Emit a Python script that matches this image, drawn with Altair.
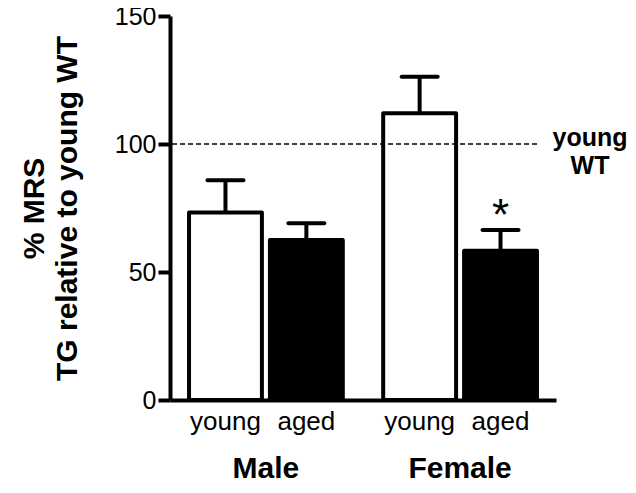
import altair as alt
import pandas as pd

# ---- data ----
sex = ["Male", "Male", "Female", "Female"]
age = ["young", "aged", "young", "aged"]
mean = [73.2, 62.5, 112.0, 58.3]
sem = [12.6, 6.5, 14.3, 8.1]
sig = ["", "", "", "*"]
ref_value = [100]
ref_label = ["young\nWT"]
y_ticks = [0, 50, 100, 150]

df = pd.DataFrame({
    "sex": sex,
    "age": age,
    "mean": mean,
    "upper": [m + s for m, s in zip(mean, sem)],
    "sig": sig,
})
ref_df = pd.DataFrame({"ref": ref_value, "label": ref_label})

FONT = "Liberation Sans"
Y_TITLE = ["% MRS", "TG relative to young WT"]

x_enc = alt.X(
    "sex:N",
    sort=["Male", "Female"],
    scale=alt.Scale(paddingInner=0.208, paddingOuter=0.098),
    axis=alt.Axis(
        title=None, ticks=False, labelAngle=0, labelFontSize=30,
        labelFontWeight="bold", labelColor="black", labelBaseline="alphabetic",
        labelPadding=77, domainWidth=4, domainColor="black", labelFont=FONT,
    ),
)
xo_enc = alt.XOffset(
    "age:N", sort=["young", "aged"],
    scale=alt.Scale(paddingInner=0.099, paddingOuter=0),
)
y_scale = alt.Scale(domain=[0, 150], nice=False)
y_axis = alt.Axis(
    values=y_ticks, grid=False, tickSize=12, tickWidth=4, tickColor="black",
    domainWidth=4, domainColor="black", labelFontSize=25, labelColor="black",
    labelPadding=2, labelFont=FONT, titleFont=FONT, titleFontSize=30,
    titleFontWeight="bold", titleColor="black", titleLineHeight=33,
    titlePadding=32,
)


def yq(field):
    return alt.Y(field, scale=y_scale, title=Y_TITLE, axis=y_axis)


base = alt.Chart(df)

bars = base.mark_bar(stroke="black", strokeWidth=4, strokeJoin="round").encode(
    x=x_enc,
    xOffset=xo_enc,
    y=yq("mean:Q"),
    fill=alt.Fill("age:N", scale=alt.Scale(domain=["young", "aged"], range=["white", "black"]), legend=None),
)

stems = base.mark_rule(strokeWidth=4, color="black").encode(
    x=x_enc, xOffset=xo_enc,
    y=yq("mean:Q"),
    y2="upper:Q",
)

caps = base.mark_tick(thickness=4, size=40, color="black", cornerRadius=2, opacity=1).encode(
    x=x_enc, xOffset=xo_enc,
    y=yq("upper:Q"),
)

stars = base.mark_text(fontSize=44, font=FONT, baseline="alphabetic", dy=0, color="black").encode(
    x=x_enc, xOffset=xo_enc,
    y=yq("upper:Q"),
    text="sig:N",
)

age_labels = base.mark_text(fontSize=26, font=FONT, baseline="alphabetic", color="black").encode(
    x=x_enc, xOffset=xo_enc,
    y=alt.value(414),
    text="age:N",
)

ref_rule = alt.Chart(ref_df).mark_rule(strokeDash=[5, 3], strokeWidth=1.5, color="black").encode(
    y=yq("ref:Q"),
    x=alt.value(2),
    x2=alt.value(367),
)

ref_text = alt.Chart(ref_df).mark_text(
    fontSize=25, font=FONT, fontWeight="bold", lineBreak="\n", lineHeight=28,
    baseline="alphabetic", align="center", dy=2, color="black",
).encode(
    y=yq("ref:Q"),
    x=alt.value(420),
    text="label:N",
)

chart = alt.layer(bars, stems, caps, stars, age_labels, ref_rule, ref_text).properties(
    width=386,
    height=384,
    padding={"left": 162, "top": 8, "right": 72, "bottom": 85},
    autosize=alt.AutoSizeParams(type="none"),
).configure(
    font=FONT, background="white", view=alt.ViewConfig(stroke=None)
)

chart.save("out.html", embed_options={"renderer": "svg", "actions": False})
